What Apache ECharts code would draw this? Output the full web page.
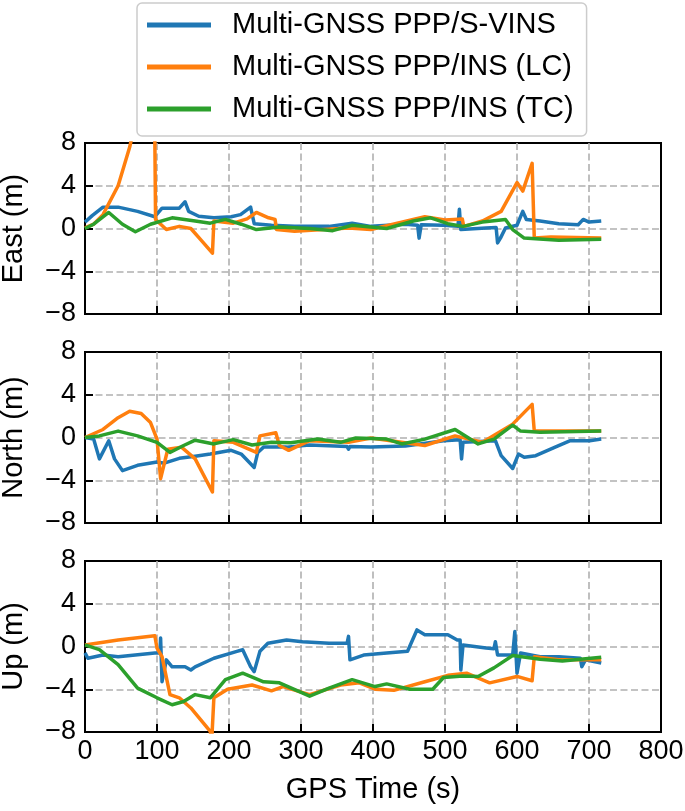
<!DOCTYPE html>
<html>
<head>
<meta charset="utf-8">
<script src="https://cdn.jsdelivr.net/npm/echarts@6/dist/echarts.min.js"></script>
<style>
html,body{margin:0;padding:0;background:#fff;}
#chart{width:685px;height:811px;}
</style>
</head>
<body>
<div id="chart"></div>
<script>
// ---------- data (GPS time [s], error [m]) ----------
const seriesNames = ['Multi-GNSS PPP/S-VINS', 'Multi-GNSS PPP/INS (LC)', 'Multi-GNSS PPP/INS (TC)'];
const panelTitles = ['East (m)', 'North (m)', 'Up (m)'];
const yTicks = [-8, -4, 0, 4, 8];
const xTicks = [0, 100, 200, 300, 400, 500, 600, 700, 800];

const eastSVINS = [[0,0.6],[1,0.7],[10,1.2],[25,2.0],[46,2.0],[73,1.6],[97,1.1],[107,1.9],[131,1.9],[139,2.5],[144,1.6],[158,1.15],[179,1.0],[203,1.1],[216,1.3],[230,2.0],[235,0.45],[259,0.3],[291,0.2],[339,0.2],[371,0.5],[397,0.2],[445,0.4],[462,0.3],[464,-0.9],[467,0.35],[498,0.3],[518,0.2],[520,1.8],[522,-0.1],[557,0.05],[571,0.1],[573,-1.35],[577,-0.9],[584,0.05],[600,0.3],[608,1.6],[613,0.85],[632,0.7],[658,0.45],[685,0.35],[692,0.85],[700,0.6],[717,0.7]];
const eastLC = [[0,0.05],[12,0.4],[25,1.3],[46,4.0],[62,7.6],[70,10],[85,12],[96.5,12],[98,0.85],[113,-0.1],[131,0.2],[147,0.0],[160,-1.0],[177,-2.3],[179,0.7],[206,0.5],[225,0.9],[238,1.5],[255,1.0],[264,0.85],[266,-0.1],[291,-0.25],[366,0.05],[397,-0.1],[472,1.1],[500,0.8],[524,0.9],[526,0.2],[552,0.7],[578,1.6],[600,4.3],[608,3.5],[621,6.1],[624,-0.9],[647,-0.8],[717,-0.9]];
const eastTC = [[0,0.0],[12,0.4],[33,1.5],[52,0.4],[70,-0.3],[91,0.4],[121,1.0],[153,0.7],[174,0.5],[195,0.85],[217,0.4],[238,-0.1],[270,0.15],[312,0.0],[344,-0.2],[371,0.3],[419,0.0],[456,0.7],[480,1.0],[504,0.45],[525,0.2],[552,0.6],[584,0.85],[594,-0.1],[610,-0.9],[658,-1.1],[717,-1.0]];

const northSVINS = [[0,0.0],[12,-0.15],[20,-2.0],[33,-0.3],[41,-2.0],[52,-3.1],[73,-2.6],[100,-2.3],[110,-2.4],[131,-1.95],[153,-1.75],[174,-1.55],[203,-1.2],[217,-1.55],[235,-2.8],[240,-1.4],[248,-0.9],[280,-0.9],[312,-0.7],[364,-0.85],[366,-1.1],[368,-0.85],[397,-0.9],[445,-0.8],[498,-0.3],[521,-0.2],[523,-2.0],[525,-0.45],[570,-0.3],[578,-1.7],[594,-2.9],[602,-1.55],[610,-1.85],[626,-1.7],[653,-0.9],[674,-0.3],[701,-0.3],[717,-0.15]];
const northLC = [[0,0.0],[25,0.75],[46,1.85],[62,2.45],[78,2.25],[91,1.4],[100,-0.15],[105,-3.85],[115,-1.1],[134,-0.9],[153,-2.0],[177,-5.1],[179,-0.3],[206,-0.45],[238,-1.4],[243,0.15],[265,0.45],[270,-0.75],[283,-1.2],[312,-0.3],[366,-0.45],[397,-0.05],[472,-0.75],[514,0.15],[552,-0.45],[594,1.25],[621,3.1],[624,0.6],[717,0.6]];
const northTC = [[0,0.0],[20,0.15],[46,0.6],[73,0.15],[100,-0.45],[118,-1.4],[137,-0.75],[153,-0.25],[179,-0.6],[206,-0.2],[232,-0.7],[259,-0.45],[286,-0.5],[323,-0.15],[355,-0.45],[376,-0.05],[419,-0.15],[440,-0.6],[472,-0.15],[514,0.75],[546,-0.6],[568,-0.15],[594,1.15],[605,0.6],[632,0.5],[717,0.6]];

const upSVINS = [[0,-0.6],[4,-1.1],[25,-0.8],[46,-0.95],[97,-0.6],[104,-0.6],[105,0.8],[107,-3.3],[113,-1.25],[121,-1.9],[139,-1.9],[147,-2.2],[153,-1.9],[179,-1.1],[211,-0.45],[219,-0.3],[230,-1.9],[235,-2.35],[243,-0.45],[254,0.3],[280,0.6],[302,0.45],[339,0.3],[364,0.3],[366,0.95],[368,-1.25],[387,-0.8],[419,-0.6],[448,-0.45],[461,1.55],[472,1.1],[504,1.1],[517,0.6],[521,0.6],[522,-2.2],[525,0.15],[557,-0.15],[568,-0.2],[570,0.45],[573,-0.8],[594,-0.8],[597,1.4],[600,-2.5],[605,-0.6],[632,-0.95],[658,-0.95],[688,-1.1],[690,-1.9],[695,-1.25],[717,-1.55]];
const upLC = [[0,0.15],[46,0.6],[97,1.0],[100,-0.15],[107,-0.95],[118,-4.5],[131,-4.8],[147,-5.75],[174,-7.95],[176,-8.8],[178,-8.8],[179,-4.8],[198,-4.0],[232,-3.6],[259,-4.15],[275,-3.75],[312,-4.5],[355,-3.6],[381,-3.4],[403,-4.0],[429,-4.1],[472,-3.3],[504,-2.7],[530,-2.5],[562,-3.4],[600,-2.8],[621,-3.2],[624,-0.95],[658,-1.25],[717,-1.25]];
const upTC = [[0,0.15],[20,-0.3],[46,-1.7],[73,-3.9],[100,-4.8],[121,-5.45],[137,-5.15],[153,-4.5],[174,-4.8],[195,-3.1],[219,-2.5],[248,-3.3],[270,-3.4],[312,-4.65],[339,-3.9],[371,-3.1],[403,-3.75],[419,-3.5],[451,-4.0],[483,-4.0],[498,-2.9],[525,-2.75],[546,-2.8],[568,-2.0],[594,-0.85],[632,-1.2],[663,-1.35],[717,-1.0]];

const panelData = [
  [eastSVINS, eastLC, eastTC],
  [northSVINS, northLC, northTC],
  [upSVINS, upLC, upTC]
];
const colors = ['#1f77b4', '#ff7f0e', '#2ca02c'];

// ---------- layout ----------
const FONT = '"Liberation Sans", Arial, "DejaVu Sans", sans-serif';
const gridTops = [143, 352, 561];
const gridH = 171;

const grids = [], xAxes = [], yAxes = [], series = [];
const minus = v => String(v).replace('-', '\u2212');
const splitStyle = { show: true, showMinLine: false, showMaxLine: false,
  lineStyle: { color: '#b0b0b0', width: 1.6, type: [7, 3.5] } };
const tickStyle = { show: true, inside: true, length: 8, lineStyle: { color: '#000', width: 2 } };
const lineAx = { show: true, onZero: false, lineStyle: { color: '#000', width: 2 } };

for (let p = 0; p < 3; p++) {
  grids.push({
    left: 85, width: 576, top: gridTops[p], height: gridH,
    containLabel: false, outerBoundsMode: 'none',
    show: true, borderColor: '#000', borderWidth: 2, backgroundColor: 'transparent'
  });
  xAxes.push({
    type: 'value', gridIndex: p, position: 'bottom',
    min: xTicks[0], max: xTicks[xTicks.length - 1], interval: 100,
    axisLine: lineAx, axisTick: tickStyle,
    axisLabel: { show: p === 2, color: '#000', fontSize: 27, fontFamily: FONT, margin: 6 },
    splitLine: splitStyle,
    name: p === 2 ? 'GPS Time (s)' : '', nameLocation: 'middle', nameGap: 43,
    nameTextStyle: { color: '#000', fontSize: 29, fontFamily: FONT }
  });
  yAxes.push({
    type: 'value', gridIndex: p, position: 'left',
    min: yTicks[0], max: yTicks[yTicks.length - 1], interval: 4,
    axisLine: lineAx, axisTick: tickStyle,
    axisLabel: { color: '#000', fontSize: 27, fontFamily: FONT, margin: 9, formatter: minus },
    splitLine: splitStyle,
    name: panelTitles[p], nameLocation: 'middle', nameGap: 57,
    nameTextStyle: { color: '#000', fontSize: 29, fontFamily: FONT }
  });
  for (let s = 0; s < 3; s++) {
    series.push({
      name: seriesNames[s], type: 'line', xAxisIndex: p, yAxisIndex: p,
      data: panelData[p][s], showSymbol: false, symbol: 'none', clip: true,
      lineStyle: { color: colors[s], width: 3.5, join: 'round' },
      itemStyle: { color: colors[s] }, z: 2 + s
    });
  }
}

const chart = echarts.init(document.getElementById('chart'), null, { renderer: 'canvas' });
chart.setOption({
  animation: false,
  backgroundColor: '#fff',
  color: colors,
  legend: {
    data: seriesNames, orient: 'vertical', left: 137, top: 3,
    padding: [7, 13, 12, 10], itemGap: 12, itemWidth: 64, itemHeight: 5, icon: 'rect',
    backgroundColor: '#fff', borderColor: '#cccccc', borderWidth: 1.5, borderRadius: 5,
    textStyle: { color: '#000', fontSize: 29, fontFamily: FONT, lineHeight: 30, padding: [0, 0, 0, 16] }
  },
  grid: grids, xAxis: xAxes, yAxis: yAxes, series: series
});
</script>
</body>
</html>
